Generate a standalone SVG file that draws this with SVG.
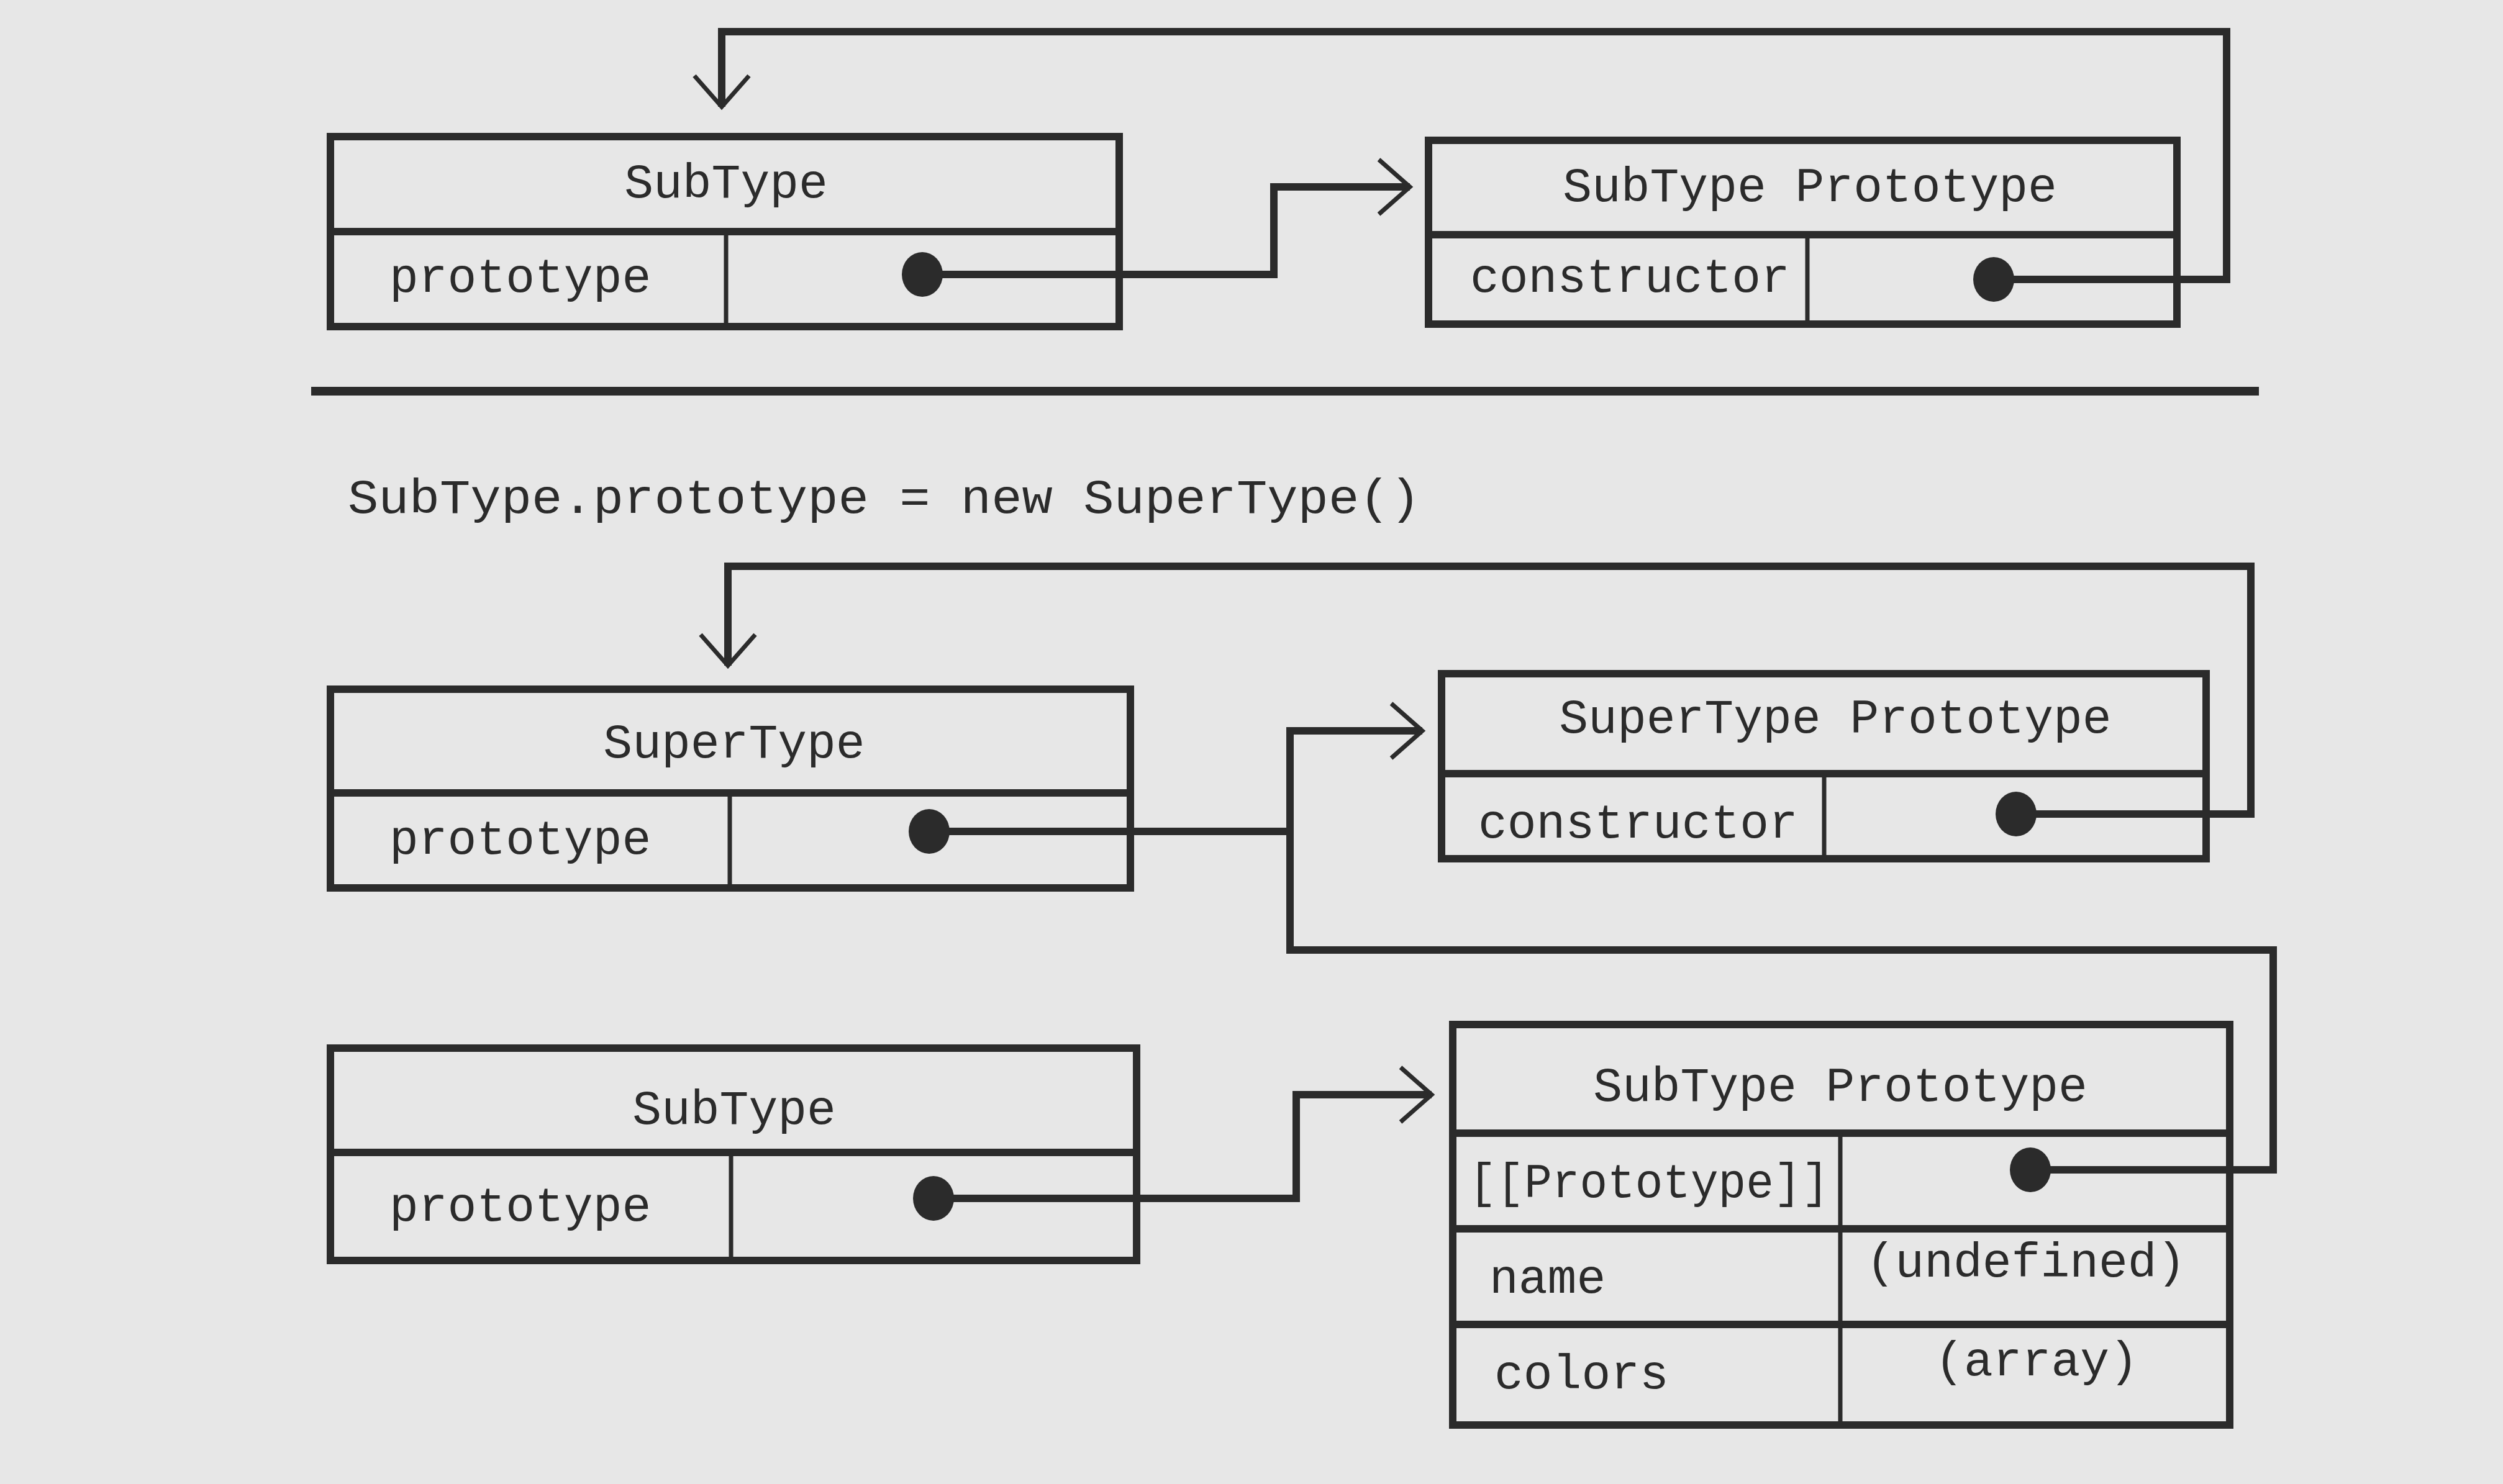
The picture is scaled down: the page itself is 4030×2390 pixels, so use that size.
<svg xmlns="http://www.w3.org/2000/svg" width="4030" height="2390" viewBox="0 0 4030 2390">
<defs>
<style>
.box{fill:none;stroke:#2b2b2b;stroke-width:12}
.div{fill:none;stroke:#2b2b2b;stroke-width:12}
.col{fill:none;stroke:#2b2b2b;stroke-width:7}
.t{font-family:"Liberation Mono","DejaVu Sans Mono",monospace;font-size:78px;fill:#2b2b2b}
.c{text-anchor:middle}
.dot{fill:#2b2b2b}
.con{fill:none;stroke:#2b2b2b;stroke-width:12;stroke-linejoin:miter}
</style>
<marker id="arr" viewBox="-60 -50 70 100" markerWidth="70" markerHeight="100" refX="0" refY="0" orient="auto" markerUnits="userSpaceOnUse">
<path d="M-50,-44 L0,0 L-50,44" fill="none" stroke="#2b2b2b" stroke-width="7"/>
</marker>
</defs>
<rect width="4030" height="2390" fill="#e7e7e7"/>

<g id="connectors">
<path class="con" d="M1485,442 H2051 V301 H2270" marker-end="url(#arr)"/>
<path class="con" d="M3210,450 H3585 V51 H1162 V172" marker-end="url(#arr)"/>
<path class="con" d="M1496,1339 H2077 V1177 H2290" marker-end="url(#arr)"/>
<path class="con" d="M3246,1311 H3624 V912 H1172 V1072" marker-end="url(#arr)"/>
<path class="con" d="M1503,1930 H2087 V1763 H2305" marker-end="url(#arr)"/>
<path class="con" d="M3269,1884 H3660 V1530 H2077 V1177"/>
</g>

<g id="separator">
<path d="M501,630 H3637" stroke="#2b2b2b" stroke-width="14"/>
<text class="t" x="560" y="826" textLength="1727" lengthAdjust="spacingAndGlyphs">SubType.prototype = new SuperType()</text>
</g>

<g id="subtype-top">
<rect class="box" x="532" y="220" width="1270" height="306"/>
<path class="div" d="M532,373 H1802"/>
<path class="col" d="M1169,373 V526"/>
<text class="t c" x="1169" y="318">SubType</text>
<text class="t" x="627" y="470">prototype</text>
<ellipse class="dot" cx="1485" cy="442" rx="33" ry="36"/>
</g>

<g id="subtype-prototype-top">
<rect class="box" x="2300" y="226" width="1205" height="296"/>
<path class="div" d="M2300,378 H3505"/>
<path class="col" d="M2910,378 V522"/>
<text class="t c" x="2914" y="324">SubType Prototype</text>
<text class="t" x="2367" y="470">constructor</text>
<ellipse class="dot" cx="3210" cy="450" rx="33" ry="36"/>
</g>

<g id="supertype">
<rect class="box" x="532" y="1110" width="1288" height="320"/>
<path class="div" d="M532,1277 H1820"/>
<path class="col" d="M1175,1277 V1430"/>
<text class="t c" x="1182" y="1220">SuperType</text>
<text class="t" x="627" y="1375">prototype</text>
<ellipse class="dot" cx="1496" cy="1339" rx="33" ry="36"/>
</g>

<g id="supertype-prototype">
<rect class="box" x="2321" y="1085" width="1231" height="298"/>
<path class="div" d="M2321,1246 H3552"/>
<path class="col" d="M2937,1246 V1383"/>
<text class="t c" x="2955" y="1180">SuperType Prototype</text>
<text class="t" x="2380" y="1349">constructor</text>
<ellipse class="dot" cx="3246" cy="1311" rx="33" ry="36"/>
</g>

<g id="subtype-bottom">
<rect class="box" x="532" y="1688" width="1298" height="342"/>
<path class="div" d="M532,1856 H1830"/>
<path class="col" d="M1177,1856 V2030"/>
<text class="t c" x="1182" y="1810">SubType</text>
<text class="t" x="627" y="1966">prototype</text>
<ellipse class="dot" cx="1503" cy="1930" rx="33" ry="36"/>
</g>

<g id="subtype-prototype-bottom">
<rect class="box" x="2339" y="1650" width="1251" height="645"/>
<path class="div" d="M2339,1825 H3590 M2339,1979 H3590 M2339,2133 H3590"/>
<path class="col" d="M2963,1825 V2295"/>
<text class="t c" x="2963" y="1773">SubType Prototype</text>
<text class="t" x="2365" y="1928" textLength="580" lengthAdjust="spacingAndGlyphs">[[Prototype]]</text>
<text class="t" x="2398" y="2082">name</text>
<text class="t c" x="3262" y="2056">(undefined)</text>
<text class="t" x="2406" y="2236">colors</text>
<text class="t c" x="3279" y="2215">(array)</text>
<ellipse class="dot" cx="3269" cy="1884" rx="33" ry="36"/>
</g>
</svg>
